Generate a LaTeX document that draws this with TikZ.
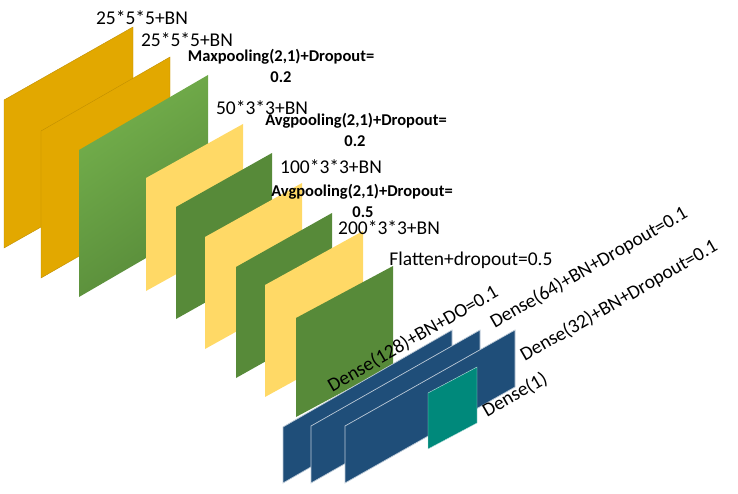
\documentclass[tikz,border=0pt]{standalone}
\usepackage{fontspec}
\setmainfont{Carlito}
\definecolor{goldc}{HTML}{E2A800}
\definecolor{yellowc}{HTML}{FFD966}
\definecolor{greenc}{HTML}{578A39}
\definecolor{ltgreenc}{HTML}{74B04C}
\definecolor{bluec}{HTML}{1F4E79}
\definecolor{tealc}{HTML}{00897B}
\tikzset{%
  gold/.style = {fill=goldc, draw=goldc!85!black, line width=.4pt},
  yellow/.style = {fill=yellowc},
  dkgreen/.style = {fill=greenc},
  ltgreen/.style = {left color=ltgreenc, right color=greenc, shading angle=35},
  dense/.style = {fill=bluec, draw=white!70!bluec, line width=.7pt},
  outlayer/.style = {fill=tealc, draw=white!75!tealc, line width=.4pt},
  lbl/.style = {inner sep=0pt, font=\fontsize{19.5}{19.5}\selectfont, text=black},
  poollbl/.style = {inner sep=0pt, font=\fontsize{16.5}{16.5}\selectfont\bfseries, text=black},
  slant/.style = {lbl, rotate=30}
}
\begin{document}
\begin{tikzpicture}[x=1pt,y=-1pt]
  \useasboundingbox (0,0) rectangle (738,494);
  % conv plates
  \path[gold] (4,100) -- (133,27) -- (133,175) -- (4,248) -- cycle;
  \path[gold] (41,131) -- (170,57) -- (170,204) -- (41,278) -- cycle;
  \shade[ltgreen] (79,150) -- (208,75) -- (208,222) -- (79,297) -- cycle;
  \path[yellow] (146,178) -- (243,124) -- (243,237) -- (146,291) -- cycle;
  \path[dkgreen] (176,207) -- (272,153) -- (272,265) -- (176,319) -- cycle;
  \path[yellow] (205,237) -- (302,183) -- (302,295) -- (205,349) -- cycle;
  \path[dkgreen] (236,267) -- (332,213) -- (332,324) -- (236,378) -- cycle;
  \path[yellow] (265,285) -- (363,231) -- (363,343) -- (265,397) -- cycle;
  \path[dkgreen] (296,318) -- (393,266) -- (393,365) -- (296,417) -- cycle;
  % dense plates
  \path[dense] (283,427) -- (452,330) -- (452,386) -- (283,483) -- cycle;
  \path[dense] (311,426) -- (480,330) -- (480,387) -- (311,483) -- cycle;
  \path[dense] (345,426) -- (515,330) -- (515,387) -- (345,483) -- cycle;
  \path[outlayer] (428,393) -- (477,367) -- (477,423) -- (428,449) -- cycle;
  % labels
  \node[lbl] (convA) at (142,18) {25*5*5+BN};
  \node[lbl] (convB) at (187,40) {25*5*5+BN};
  \node[poollbl] (poolA) at (281,57) {Maxpooling(2,1)+Dropout=};
  \node[poollbl] (poolAval) at (281,77) {0.2};
  \node[lbl] (convC) at (262,108) {50*3*3+BN};
  \node[poollbl] (poolB) at (356,121) {Avgpooling(2,1)+Dropout=};
  \node[poollbl] (poolBval) at (355,141) {0.2};
  \node[lbl] (convD) at (331,167) {100*3*3+BN};
  \node[poollbl] (poolC) at (362,192) {Avgpooling(2,1)+Dropout=};
  \node[poollbl] (poolCval) at (363,212) {0.5};
  \node[lbl] (convE) at (389,228) {200*3*3+BN};
  \node[lbl] (flat) at (471,260) {Flatten+dropout=0.5};
  \node[slant] (denseA) at (413,339) {Dense(128)+BN+DO=0.1};
  \node[slant] (denseB) at (589,268) {Dense(64)+BN+Dropout=0.1};
  \node[slant] (denseC) at (619,301) {Dense(32)+BN+Dropout=0.1};
  \node[slant] (denseD) at (515,395) {Dense(1)};
\end{tikzpicture}
\end{document}
